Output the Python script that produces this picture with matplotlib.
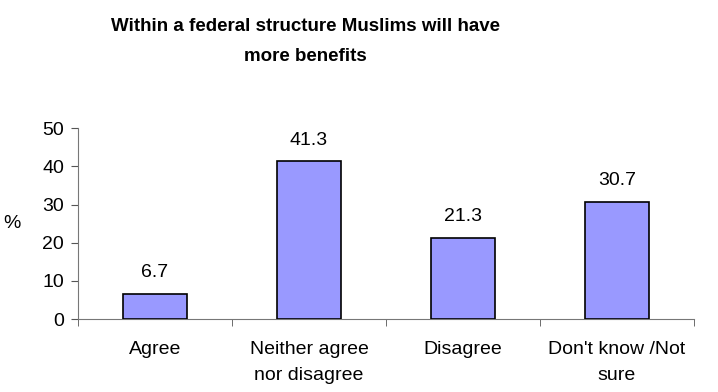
import numpy as np
import matplotlib.pyplot as plt

categories = ['Agree', 'Neither agree\nnor disagree', 'Disagree', "Don't know /Not\nsure"]
values = [6.7, 41.3, 21.3, 30.7]

plt.rcParams['font.family'] = ['Liberation Sans', 'DejaVu Sans']

fig = plt.figure(figsize=(7.18, 3.92), dpi=100)
ax = fig.add_axes([0.1086, 0.186, 0.858, 0.487])

x = np.arange(len(categories))
bars = ax.bar(x, values, width=0.42, color='#9999FF', edgecolor='black', linewidth=1.2, zorder=3)

for b, v in zip(bars, values):
    ax.annotate(f'{v}', (b.get_x() + b.get_width() / 2, v), xytext=(0, 9),
                textcoords='offset points', ha='center', va='bottom', fontsize=14)

ax.set_xlim(-0.5, len(categories) - 0.5)
ax.set_ylim(0, 50)
ax.set_yticks(range(0, 51, 10))
ax.set_xticks(x)
ax.set_xticklabels(categories, fontsize=14, linespacing=1.7)
ax.set_xticks(np.arange(len(categories) + 1) - 0.5, minor=True)
ax.tick_params(axis='x', which='major', length=0, pad=16)
ax.tick_params(axis='x', which='minor', length=5, color='#555555', direction='out')
ax.tick_params(axis='y', length=5, color='#555555', labelsize=14, pad=5)

for s in ['top', 'right']:
    ax.spines[s].set_visible(False)
for s in ['left', 'bottom']:
    ax.spines[s].set_color('#777777')

ax.set_ylabel('%', fontsize=14, rotation=0, labelpad=22, va='center')

title = fig.text(0.425, 0.893, 'Within a federal structure Muslims will have\nmore benefits',
                 ha='center', va='center', fontsize=13.5, fontweight='bold', linespacing=2.0)

fig.savefig('out.png', dpi=100)
